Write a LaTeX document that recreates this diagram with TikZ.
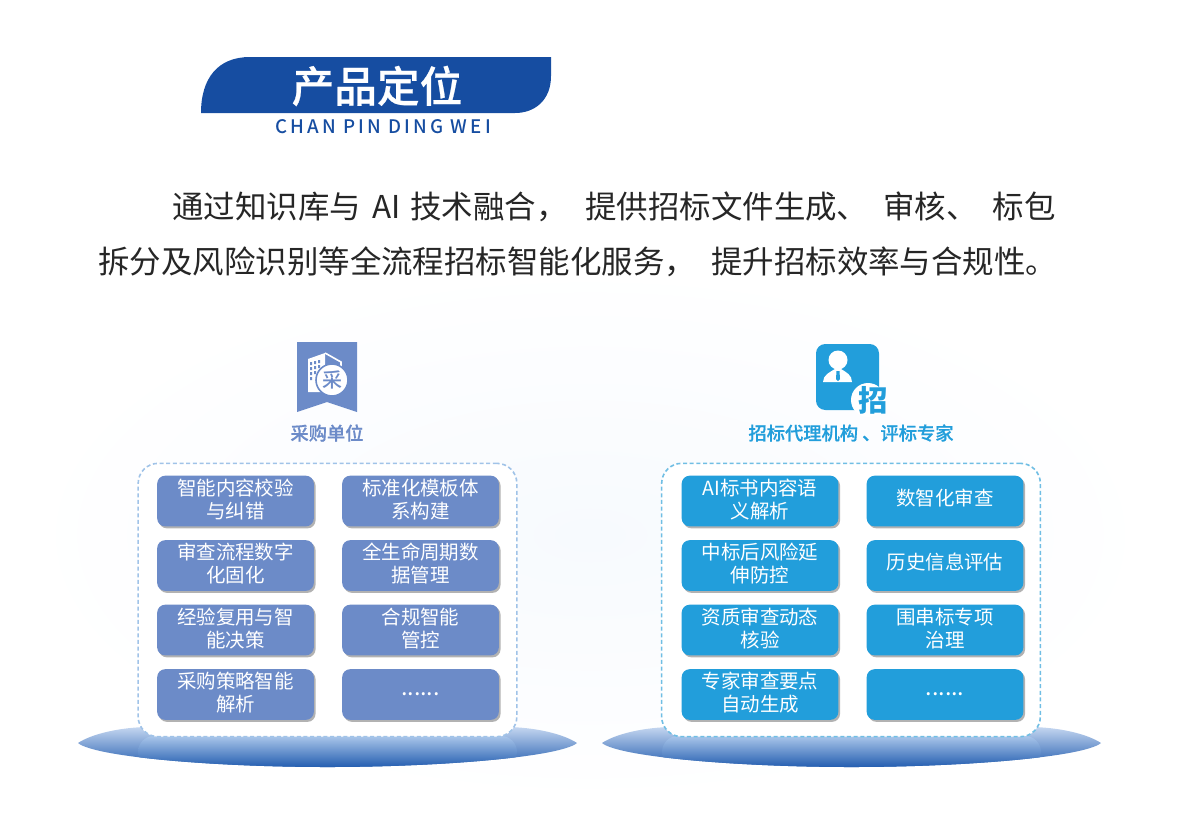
\documentclass[tikz,border=0pt]{standalone}
\usepackage{fontspec}
\setmainfont{Noto Sans CJK SC}
\newfontfamily\medfont{Noto Sans CJK SC Medium}
\newfontfamily\headfont[FakeBold=0.6]{Noto Sans CJK SC Medium}
\usepackage{tikz}
\usetikzlibrary{shadows}
\definecolor{titleblue}{RGB}{22,77,161}
\definecolor{caigou}{RGB}{108,139,200}
\definecolor{zhaobiao}{RGB}{34,158,219}
\definecolor{dashcai}{RGB}{160,195,232}
\definecolor{dashzhao}{RGB}{112,190,228}
\definecolor{discdark}{RGB}{36,94,176}
\definecolor{discmid}{RGB}{78,126,198}
\definecolor{disclight}{RGB}{196,214,240}
\definecolor{striplight}{RGB}{170,198,234}
\definecolor{stripmid}{RGB}{122,162,218}
\definecolor{bodytext}{RGB}{38,38,38}
\definecolor{haze}{RGB}{247,250,254}
\lineskiplimit=-20pt
\tikzset{
  itembox/.style={rounded corners=6pt,minimum width=117.5pt,minimum height=38pt,inner sep=0pt,align=center,text=white,
    font=\fontsize{14.6}{17.3}\selectfont,text height=30pt,text depth=4pt,
    drop shadow={shadow xshift=1.3pt,shadow yshift=-1.5pt,opacity=.55,fill=black!55}},
  caigoubox/.style={itembox,fill=caigou},
  zhaobiaobox/.style={itembox,fill=zhaobiao},
  singleline/.style={text height=10.5pt,text depth=4pt},
  dotline/.style={font=\fontsize{17.5}{17.5}\selectfont,text height=10pt,text depth=8.5pt},
  groupbox/.style={densely dashed,line width=1.2pt,fill=white,rounded corners=15pt,minimum width=284pt,minimum height=205pt,inner sep=0pt},
  bodyline/.style={anchor=west,inner sep=0pt,text=bodytext,font=\fontsize{23.6}{28}\selectfont},
  grouptitle/.style={inner sep=0pt,font=\headfont\fontsize{13.7}{15}\selectfont},
  stripfill/.style={top color=striplight,middle color=stripmid,bottom color=discdark,rounded corners=12pt},
  discfill/.style={top color=disclight,middle color=discmid,bottom color=discdark},
}
\begin{document}
\begin{tikzpicture}[x=0.75pt,y=0.75pt,yscale=-1,xscale=1]
\useasboundingbox (0,0) rectangle (1181,819);

%Shape: Faint backdrop
\shade [inner color=haze,outer color=white] (590,535) ellipse (570 and 270);

%Shape: Title band
\fill [titleblue] (201,113) .. controls (201,78) and (218,57) .. (250,57) -- (551,57) -- (551,76) .. controls (551,100) and (535,113) .. (515,113) -- cycle ;

% Text Node
\node (title) at (377,86) [inner sep=0pt,text=white,font=\headfont\fontsize{32}{36}\selectfont] {产品定位};
% Text Node
\node (subtitle) at (383,127) [inner sep=0pt,text=titleblue,font=\medfont\fontsize{14}{15}\selectfont\addfontfeature{LetterSpace=17}] {CHAN PIN DING WEI};

% Text Node
\node (lineone) at (172,207) [bodyline] {通过知识库与\hspace{3pt} AI\hspace{2pt} 技术融合，\hspace{8pt} 提供招标文件生成、\hspace{6pt} 审核、\hspace{6pt} 标包};
% Text Node
\node (linetwo) at (98,262) [bodyline] {拆分及风险识别等全流程招标智能化服务，\hspace{6pt} 提升招标效率与合规性。};

%Shape: Left disc
\shade [discfill] (78,743) .. controls (90,735) and (115,728) .. (145,727) -- (510,727) .. controls (540,728) and (565,735) .. (577,743) .. controls (560,757) and (440,767) .. (327.5,767) .. controls (215,767) and (95,757) .. (78,743) -- cycle ;
\begin{scope}
\clip (78,743) .. controls (90,735) and (115,728) .. (145,727) -- (510,727) .. controls (540,728) and (565,735) .. (577,743) .. controls (560,757) and (440,767) .. (327.5,767) .. controls (215,767) and (95,757) .. (78,743) -- cycle ;
\shade [stripfill] (138,736) rectangle (517,767);
\end{scope}
%Shape: Right disc
\shade [discfill] (602,743) .. controls (614,735) and (639,728) .. (669,727) -- (1034,727) .. controls (1064,728) and (1089,735) .. (1101,743) .. controls (1084,757) and (964,767) .. (851.5,767) .. controls (739,767) and (619,757) .. (602,743) -- cycle ;
\begin{scope}
\clip (602,743) .. controls (614,735) and (639,728) .. (669,727) -- (1034,727) .. controls (1064,728) and (1089,735) .. (1101,743) .. controls (1084,757) and (964,767) .. (851.5,767) .. controls (739,767) and (619,757) .. (602,743) -- cycle ;
\shade [stripfill] (662,736) rectangle (1041,767);
\end{scope}

%Shape: Group frames
\node (leftgroup) at (327.5,600) [groupbox,draw=dashcai] {};
\node (rightgroup) at (851,600) [groupbox,draw=dashzhao] {};

%Shape: Left emblem
\fill [caigou] (297,342) -- (357,342) -- (357,412) -- (327,402) -- (297,412) -- cycle ;
\fill [white] (308,359) -- (325,353) -- (325,392) -- (308,392) -- cycle ;
\draw [white,line width=1.2pt] (325,353) -- (341,362) -- (341,372) ;
\fill [caigou] (310,362) rectangle (312,365) (314,361) rectangle (316,364) (318,360) rectangle (320,363) (310,367) rectangle (312,370) (314,366) rectangle (316,369) (318,365) rectangle (320,368) (310,372) rectangle (312,375) (314,371) rectangle (316,374) (310,377) rectangle (312,380) ;
\node (caiseal) at (332,380) [circle,fill=white,draw=caigou,line width=1.2pt,minimum size=24pt,inner sep=0pt,text=caigou,font=\medfont\fontsize{15}{15}\selectfont] {采};
% Text Node
\node (caigoutitle) at (327,433) [grouptitle,text=caigou] {采购单位};

%Shape: Right emblem
\fill [zhaobiao,rounded corners=7pt] (816,344) rectangle (879,410);
\fill [white] (838,360) circle (9.5);
\fill [white] (823,382) .. controls (823,375) and (830,372) .. (835,369) -- (841,369) .. controls (846,372) and (852,375) .. (852,382) -- cycle ;
\fill [zhaobiao] (836.5,371) -- (839.5,371) -- (840,379) -- (838,381) -- (836,379) -- cycle ;
\fill [white] (868,400) circle (17);
\node (zhaoseal) at (873,400) [inner sep=0pt,text=zhaobiao,font=\bfseries\fontsize{22}{22}\selectfont] {招};
% Text Node
\node (zhaobiaotitle) at (851,433) [grouptitle,text=zhaobiao] {招标代理机构 、评标专家};

% Left boxes
\node (checkbox) at (235.5,501) [caigoubox] {智能内容校验\\与纠错};
\node (modelbox) at (420.5,501) [caigoubox] {标准化模板体\\系构建};
\node (flowbox) at (235.5,565.5) [caigoubox] {审查流程数字\\化固化};
\node (lifebox) at (420.5,565.5) [caigoubox] {全生命周期数\\据管理};
\node (reusebox) at (235.5,630) [caigoubox] {经验复用与智\\能决策};
\node (rulebox) at (420.5,630) [caigoubox] {合规智能\\管控};
\node (policybox) at (235.5,694.5) [caigoubox] {采购策略智能\\解析};
\node (moreleft) at (420.5,694.5) [caigoubox,dotline] {......};

% Right boxes
\node (parsebox) at (760,501) [zhaobiaobox] {AI标书内容语\\义解析};
\node (digitbox) at (945,501) [zhaobiaobox,singleline] {数智化审查};
\node (riskbox) at (760,565.5) [zhaobiaobox] {中标后风险延\\伸防控};
\node (historybox) at (945,565.5) [zhaobiaobox,singleline] {历史信息评估};
\node (qualbox) at (760,630) [zhaobiaobox] {资质审查动态\\核验};
\node (collusionbox) at (945,630) [zhaobiaobox] {围串标专项\\治理};
\node (expertbox) at (760,694.5) [zhaobiaobox] {专家审查要点\\自动生成};
\node (moreright) at (945,694.5) [zhaobiaobox,dotline] {......};

\end{tikzpicture}
\end{document}
